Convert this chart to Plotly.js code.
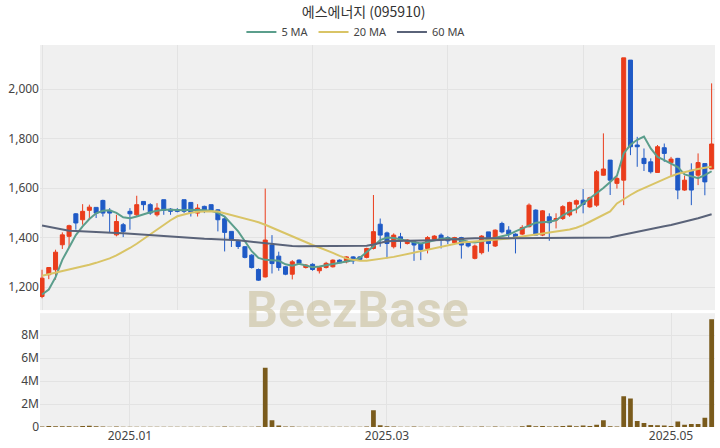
<!DOCTYPE html>
<html>
<head>
<meta charset="utf-8">
<script src="https://cdn.plot.ly/plotly-3.0.1.min.js"></script>
<style>html,body{margin:0;padding:0;background:#fff;}#chart{width:720px;height:448px;}</style>
</head>
<body>
<div id="chart"></div>
<script>
const dates = [
 "2024-12-11","2024-12-12","2024-12-13","2024-12-16","2024-12-17","2024-12-18","2024-12-19","2024-12-20","2024-12-23","2024-12-24",
 "2024-12-26","2024-12-27","2024-12-30","2025-01-02","2025-01-03","2025-01-06","2025-01-07","2025-01-08","2025-01-09","2025-01-10",
 "2025-01-13","2025-01-14","2025-01-15","2025-01-16","2025-01-17","2025-01-20","2025-01-21","2025-01-22","2025-01-23","2025-01-24",
 "2025-01-31","2025-02-03","2025-02-04","2025-02-05","2025-02-06","2025-02-07","2025-02-10","2025-02-11","2025-02-12","2025-02-13",
 "2025-02-14","2025-02-17","2025-02-18","2025-02-19","2025-02-20","2025-02-21","2025-02-24","2025-02-25","2025-02-26","2025-02-27",
 "2025-02-28","2025-03-04","2025-03-05","2025-03-06","2025-03-07","2025-03-10","2025-03-11","2025-03-12","2025-03-13","2025-03-14",
 "2025-03-17","2025-03-18","2025-03-19","2025-03-20","2025-03-21","2025-03-24","2025-03-25","2025-03-26","2025-03-27","2025-03-28",
 "2025-03-31","2025-04-01","2025-04-02","2025-04-03","2025-04-04","2025-04-07","2025-04-08","2025-04-09","2025-04-10","2025-04-11",
 "2025-04-14","2025-04-15","2025-04-16","2025-04-17","2025-04-18","2025-04-21","2025-04-22","2025-04-23","2025-04-24","2025-04-25",
 "2025-04-28","2025-04-29","2025-04-30","2025-05-02","2025-05-07","2025-05-08","2025-05-09","2025-05-12","2025-05-13","2025-05-14"
];
const openP = [
 1162,1250,1270,1371,1405,1496,1472,1510,1522,1550, 1510,1411,1452,1506,1492,1546,1533,1492,1553,1515,
 1512,1553,1542,1499,1526,1533,1512,1476,1425,1385, 1363,1329,1271,1241,1370,1325,1282,1252,1309,1279,
 1292,1266,1279,1282,1309,1302,1322,1322,1320,1356, 1454,1419,1363,1403,1376,1383,1376,1356,1393,1410,
 1400,1379,1400,1378,1316,1339,1423,1366,1457,1430, 1414,1414,1444,1511,1410,1484,1471,1477,1491,1535,
 1551,1524,1531,1652,1713,1619,1632,2117,1774,1720, 1706,1663,1763,1703,1720,1592,1672,1652,1699,1677
];
const highP = [
 1270,1280,1351,1421,1452,1499,1535,1533,1522,1553, 1519,1492,1459,1519,1569,1546,1539,1539,1553,1519,
 1519,1553,1542,1535,1529,1533,1515,1485,1425,1391, 1366,1333,1275,1598,1410,1343,1285,1309,1312,1293,
 1296,1285,1302,1312,1312,1325,1325,1325,1359,1572, 1477,1424,1417,1419,1393,1390,1379,1406,1410,1417,
 1406,1403,1403,1383,1372,1410,1423,1433,1464,1446, 1417,1450,1538,1514,1511,1498,1498,1531,1545,1554,
 1596,1565,1673,1821,1713,1646,2126,2117,1807,1760, 1720,1774,1780,1726,1722,1650,1700,1740,1699,2023
];
const lowP = [
 1155,1232,1230,1354,1358,1432,1452,1472,1479,1485, 1421,1405,1402,1432,1485,1510,1492,1485,1492,1492,
 1502,1499,1485,1485,1499,1506,1425,1344,1362,1354, 1316,1275,1225,1239,1255,1266,1248,1231,1293,1275,
 1266,1255,1275,1279,1296,1296,1293,1306,1316,1352, 1363,1316,1356,1356,1372,1306,1309,1336,1390,1356,
 1374,1376,1315,1360,1312,1332,1343,1362,1417,1396, 1336,1410,1441,1410,1406,1387,1437,1471,1484,1498,
 1498,1520,1524,1650,1572,1598,1531,1733,1686,1669, 1659,1663,1706,1646,1555,1589,1531,1612,1571,1677
];
const closeP = [
 1236,1279,1341,1411,1448,1459,1506,1523,1499,1499, 1499,1465,1425,1496,1533,1533,1499,1519,1510,1506,
 1506,1506,1502,1519,1512,1510,1472,1421,1391,1364, 1320,1279,1228,1390,1295,1279,1252,1302,1296,1289,
 1271,1279,1296,1309,1298,1322,1306,1312,1356,1424, 1410,1376,1410,1387,1390,1370,1352,1400,1406,1393,
 1387,1400,1370,1366,1366,1406,1376,1430,1423,1414, 1397,1441,1531,1410,1508,1460,1477,1525,1542,1549,
 1534,1561,1666,1677,1632,1639,2126,1767,1767,1699, 1666,1767,1740,1717,1592,1632,1592,1703,1625,1778
];
const volume = [
 0.05,0.08,0.06,0.07,0.06,0.05,0.09,0.10,0.06,0.04, 0.03,0.04,0.03,0.02,0.03,0.02,0.02,0.03,0.02,0.02,
 0.02,0.03,0.02,0.02,0.03,0.02,0.03,0.05,0.03,0.02, 0.02,0.03,0.05,5.15,0.58,0.12,0.05,0.04,0.03,0.03,
 0.03,0.02,0.03,0.03,0.02,0.03,0.03,0.02,0.04,1.45, 0.15,0.06,0.04,0.03,0.03,0.04,0.03,0.03,0.03,0.02,
 0.03,0.03,0.04,0.03,0.03,0.04,0.03,0.04,0.03,0.03, 0.03,0.06,0.15,0.06,0.09,0.05,0.06,0.08,0.12,0.07,
 0.12,0.09,0.20,0.58,0.06,0.05,2.68,2.47,0.52,0.35, 0.17,0.15,0.12,0.09,0.47,0.20,0.26,0.26,0.81,9.37
].map(v => v * 1e6);
const ma5 = [
 1170,1190,1240,1310,1360,1410,1445,1475,1498,1508, 1510,1500,1482,1478,1485,1494,1502,1508,1512,1512,
 1510,1510,1512,1512,1510,1508,1500,1485,1455,1425, 1385,1345,1318,1310,1308,1306,1292,1286,1294,1286,
 1280,1283,1288,1292,1298,1303,1308,1318,1340,1365, 1390,1400,1398,1392,1385,1380,1376,1382,1390,1395,
 1397,1394,1390,1383,1380,1385,1390,1398,1405,1412, 1425,1437,1448,1460,1462,1464,1470,1490,1505,1515,
 1538,1558,1580,1600,1625,1650,1740,1775,1795,1808, 1760,1726,1713,1700,1685,1655,1646,1640,1652,1668
];
const ma20 = [
 1246,1252,1258,1264,1270,1276,1282,1290,1298,1306, 1316,1328,1342,1358,1375,1394,1414,1432,1452,1470,
 1486,1494,1500,1504,1506,1506,1505,1498,1490,1484, 1476,1468,1462,1452,1440,1428,1416,1404,1392,1380,
 1370,1360,1350,1338,1326,1316,1310,1306,1306,1309, 1314,1318,1322,1328,1334,1340,1345,1351,1358,1364,
 1370,1375,1380,1382,1384,1386,1388,1390,1392,1396, 1400,1404,1408,1410,1414,1418,1422,1428,1433,1440,
 1450,1464,1478,1492,1506,1538,1556,1572,1588,1600, 1612,1625,1638,1648,1658,1665,1672,1677,1682,1686
];
const ma60 = [
 1449,1444,1439,1432,1428,1427,1426,1424,1423,1422, 1420,1419,1417,1415,1414,1412,1410,1408,1406,1404,
 1402,1400,1398,1396,1395,1394,1393,1392,1391,1389, 1386,1383,1379,1376,1373,1370,1368,1366,1365,1365,
 1365,1365,1365,1365,1365,1366,1366,1366,1367,1372, 1380,1385,1386,1387,1387,1388,1388,1389,1389,1390,
 1392,1394,1395,1396,1397,1397,1398,1398,1398,1398, 1398,1398,1398,1398,1398,1398,1398,1399,1399,1399,
 1399,1399,1400,1400,1400,1406,1412,1418,1424,1430, 1435,1440,1446,1451,1457,1463,1470,1478,1486,1494
];
const priceTicks = [dates[0], dates[20], dates[40], dates[60], dates[80]];
const volTickVals = ["2025-01-02", "2025-03-04", "2025-05-02"];
const volTickText = ["2025.01", "2025.03", "2025.05"];

const RED = '#ea3d1c', BLUE = '#1f5ac6';
const traces = [
  {type:'candlestick', x:dates, open:openP, high:highP, low:lowP, close:closeP,
   xaxis:'x', yaxis:'y', showlegend:false, hoverinfo:'skip',
   increasing:{line:{color:RED, width:1}, fillcolor:RED},
   decreasing:{line:{color:BLUE, width:1}, fillcolor:BLUE}, whiskerwidth:0},
  {type:'scatter', mode:'lines', x:dates, y:ma5, name:'5 MA', xaxis:'x', yaxis:'y',
   line:{color:'#5b9e8c', width:2}},
  {type:'scatter', mode:'lines', x:dates, y:ma20, name:'20 MA', xaxis:'x', yaxis:'y',
   line:{color:'#d9c466', width:2}},
  {type:'scatter', mode:'lines', x:dates, y:ma60, name:'60 MA', xaxis:'x', yaxis:'y',
   line:{color:'#5a6379', width:2}},
  {type:'bar', x:dates, y:volume, xaxis:'x2', yaxis:'y2', showlegend:false,
   marker:{color:'#7a5b1c'}, hoverinfo:'skip'}
];
const axisFont = {family:'Noto Sans, Roboto, sans-serif', size:12, color:'#444'};
const layout = {
  width:720, height:448,
  margin:{l:40, r:5, t:45, b:21},
  paper_bgcolor:'#ffffff', plot_bgcolor:'#f0f0f0',
  title:{text:'에스에너지 (095910)', x:0.505, xanchor:'center', y:0.985, yanchor:'top',
         font:{family:'Noto Sans CJK KR, Noto Sans, sans-serif', size:14, color:'#333'}},
  showlegend:true,
  legend:{orientation:'h', x:0.468, xanchor:'center', y:1.034, yanchor:'middle',
          font:{family:'Noto Sans, Roboto, sans-serif', size:11, color:'#444'},
          bgcolor:'rgba(0,0,0,0)', itemwidth:30, tracegroupgap:0},
  bargap:0.3,
  boxgap:0.15,
  xaxis:{type:'category', domain:[0,1], anchor:'y', range:[-0.3, 99.5],
         tickmode:'array', tickvals:priceTicks, showticklabels:false,
         gridcolor:'#e3e3e3', showline:false, zeroline:false, rangeslider:{visible:false}, fixedrange:true},
  yaxis:{domain:[0.306, 1], range:[1107, 2178], tickvals:[1200,1400,1600,1800,2000],
         tickformat:',d', gridcolor:'#e3e3e3', zeroline:false, tickfont:axisFont, ticks:'', ticklen:0},
  xaxis2:{type:'category', domain:[0,1], anchor:'y2', range:[-0.3, 99.5],
          tickmode:'array', tickvals:volTickVals, ticktext:volTickText, tickangle:0,
          gridcolor:'#e3e3e3', tickfont:axisFont, showline:false, zeroline:false},
  yaxis2:{domain:[0, 0.298], range:[0, 9.9e6], tickvals:[0,2e6,4e6,6e6,8e6],
          ticktext:['0','2M','4M','6M','8M'], gridcolor:'#e3e3e3', zeroline:false, tickfont:axisFont},
  annotations:[{text:'BeezBase', xref:'paper', yref:'paper', x:0.47, y:0.305, xanchor:'center', yanchor:'middle',
    showarrow:false, font:{family:'Roboto, Noto Sans, sans-serif', size:50, color:'rgba(196,186,146,0.55)', weight:700}}]
};
Plotly.newPlot('chart', traces, layout, {displayModeBar:false, staticPlot:true});
</script>
</body>
</html>
